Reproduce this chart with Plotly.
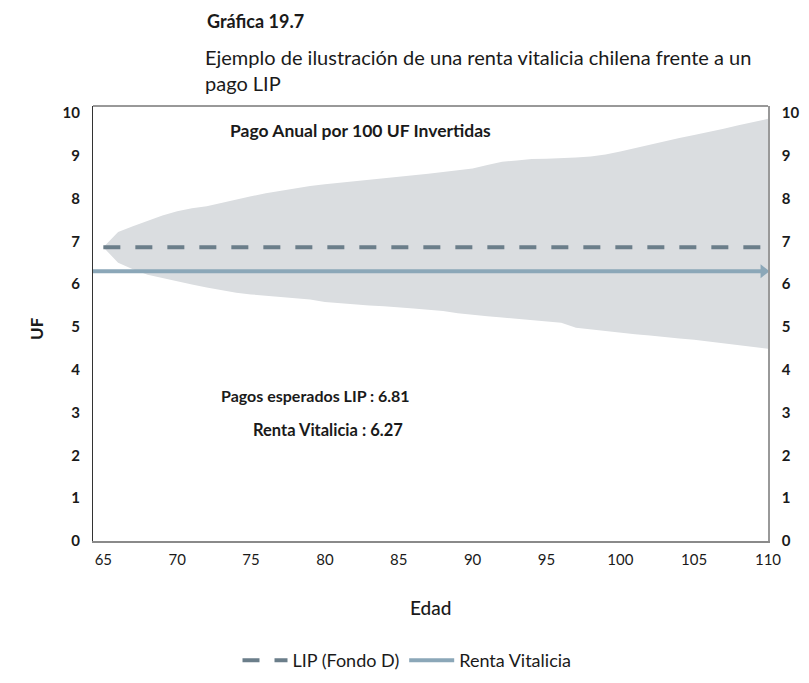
import plotly.graph_objects as go

edad = list(range(65, 111))
banda_sup = [6.86, 7.22, 7.35, 7.48, 7.60, 7.70, 7.77, 7.82, 7.90, 7.98,
             8.05, 8.12, 8.18, 8.24, 8.29, 8.33, 8.37, 8.40, 8.44, 8.47,
             8.50, 8.54, 8.58, 8.62, 8.66, 8.70, 8.78, 8.86, 8.89, 8.92,
             8.93, 8.94, 8.96, 8.98, 9.03, 9.10, 9.18, 9.26, 9.33, 9.41,
             9.48, 9.55, 9.63, 9.71, 9.79, 9.86]
banda_inf = [6.86, 6.50, 6.35, 6.22, 6.14, 6.06, 5.99, 5.92, 5.86, 5.80,
             5.76, 5.73, 5.71, 5.68, 5.64, 5.58, 5.55, 5.52, 5.50, 5.48,
             5.46, 5.43, 5.40, 5.37, 5.32, 5.28, 5.25, 5.22, 5.19, 5.16,
             5.13, 5.10, 4.98, 4.94, 4.90, 4.87, 4.83, 4.80, 4.76, 4.73,
             4.70, 4.66, 4.62, 4.58, 4.53, 4.49]
lip_edad = [65, 110]
lip_valor = [6.86, 6.86]
rv_edad = [64.3, 109.7]
rv_valor = [6.30, 6.30]
x_ticks = [65, 70, 75, 80, 85, 90, 95, 100, 105, 110]
y_ticks = list(range(0, 11))

FONT = "Lato"
C_BAND = "#dadde0"
C_LIP = "#6b7e8a"
C_RV = "#8ba7b8"

# page body adds an 8px offset; compensate
OFF = 8
PL, PT, PW, PH = 93, 106, 675, 437          # plot area in the reference picture
W, H = 809, 683
L, T = PL - OFF, PT - OFF
R, B = W - L - PW, H - T - PH

def px(x):
    return (x - PL) / PW

def py(y):
    return (PT + PH - y) / PH

fig = go.Figure()
fig.add_trace(go.Scatter(x=edad, y=banda_inf, mode="lines", line=dict(width=0),
                         showlegend=False, hoverinfo="skip"))
fig.add_trace(go.Scatter(x=edad, y=banda_sup, mode="lines", line=dict(width=0),
                         fill="tonexty", fillcolor=C_BAND, showlegend=False,
                         hoverinfo="skip"))
fig.add_trace(go.Scatter(x=lip_edad, y=lip_valor, mode="lines", name="LIP (Fondo D)",
                         line=dict(color=C_LIP, width=4, dash="17px,15px")))
fig.add_trace(go.Scatter(x=rv_edad, y=rv_valor, mode="lines", name="Renta Vitalicia",
                         line=dict(color=C_RV, width=4)))
fig.add_trace(go.Scatter(x=rv_edad[-1:], y=rv_valor[-1:], mode="markers",
                         marker=dict(symbol="triangle-right", size=12, color=C_RV),
                         cliponaxis=False, showlegend=False, hoverinfo="skip"))
# invisible trace to get right axis
fig.add_trace(go.Scatter(x=[65], y=[0], yaxis="y2", mode="markers",
                         marker=dict(opacity=0), showlegend=False, hoverinfo="skip"))

tf = dict(size=15, family=FONT, color="#1a1a1a", weight="bold")
fig.update_layout(
    width=W, height=H,
    margin=dict(l=L, r=R, t=T, b=B),
    paper_bgcolor="white", plot_bgcolor="white",
    font=dict(family=FONT, color="#1a1a1a"),
    xaxis=dict(range=[64.3, 110], tickvals=x_ticks, ticks="", showgrid=False,
               zeroline=False, showline=True, linecolor="#8a8a8a", linewidth=2,
               automargin=False, ticklabelstandoff=4,
               tickfont=dict(size=15, family=FONT, color="#1a1a1a")),
    yaxis=dict(range=[0, 10.16], tickvals=y_ticks, ticks="", showgrid=False,
               zeroline=False, showline=True, linecolor="#333333", linewidth=1,
               automargin=False, ticklabelstandoff=9, tickfont=tf),
    yaxis2=dict(range=[0, 10.16], tickvals=y_ticks, overlaying="y", side="right",
                ticks="", showgrid=False, zeroline=False, showline=True,
                linecolor="#999999", linewidth=1.5, automargin=False,
                ticklabelstandoff=9, tickfont=tf),
    legend=dict(orientation="h", x=px(407), xanchor="center", y=py(663),
                yanchor="middle", font=dict(size=18, family=FONT), traceorder="normal",
                itemwidth=45),
    shapes=[dict(type="line", xref="paper", yref="paper", x0=0, x1=1, y0=1, y1=1,
                 line=dict(color="#333333", width=1))],
    annotations=[
        dict(text="<b>Gráfica 19.7</b>", xref="paper", yref="paper", x=px(205),
             y=1, xanchor="left", yanchor="middle", showarrow=False,
             font=dict(size=18), yshift=PT - 21),
        dict(text="Ejemplo de ilustración de una renta vitalicia chilena frente a un<br>pago LIP",
             xref="paper", yref="paper", x=px(203), y=1, xanchor="left",
             yanchor="top", align="left", showarrow=False, font=dict(size=20),
             yshift=PT - 43),
        dict(text="<b>Pago Anual por 100 UF Invertidas</b>", x=82.4, y=9.58, showarrow=False,
             font=dict(size=17.5)),
        dict(text="<b>Pagos esperados LIP : 6.81</b>", x=79.33, y=3.40, showarrow=False,
             font=dict(size=16)),
        dict(text="<b>Renta Vitalicia : 6.27</b>", x=80.2, y=2.60, showarrow=False,
             font=dict(size=16.5)),
        dict(text="Edad", xref="paper", yref="paper", x=px(430), y=py(610),
             xanchor="center", yanchor="middle", showarrow=False,
             font=dict(size=19, weight=500)),
        dict(text="<b>UF</b>", xref="paper", yref="paper", x=px(37), y=py(330),
             xanchor="center", yanchor="middle", showarrow=False, textangle=-90,
             font=dict(size=17)),
    ],
)
fig.write_html("out.html")
